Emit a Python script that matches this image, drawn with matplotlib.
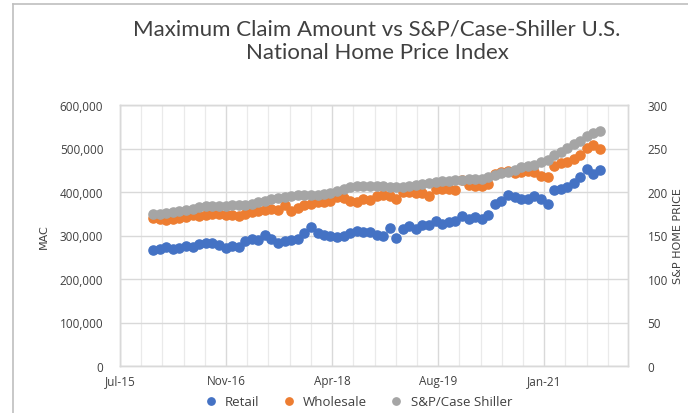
import matplotlib
matplotlib.use("Agg")
import matplotlib.pyplot as plt
import matplotlib.dates as mdates
from matplotlib.ticker import FuncFormatter, FixedLocator
import datetime as dt
import pandas as pd

# ---- data ----
dates = pd.date_range("2015-12-01", "2021-08-01", freq="MS")

retail = [267, 270, 273, 269, 272, 275, 273, 280, 282, 283, 279, 271, 276, 274,
          288, 292, 289, 301, 292, 283, 287, 290, 292, 306, 319, 306, 302, 300,
          297, 300, 306, 311, 309, 307, 302, 298, 318, 294, 316, 322, 316, 324,
          323, 334, 327, 330, 333, 345, 338, 342, 338, 347, 372, 380, 393, 388,
          385, 383, 390, 384, 373, 404, 408, 411, 421, 434, 453, 441, 451]
retail = [v * 1000 for v in retail]

wholesale = [340, 337, 336, 338, 340, 343, 347, 345, 347, 349, 349, 348, 347, 344,
             350, 355, 357, 358, 361, 358, 371, 357, 364, 369, 373, 376, 376, 379,
             388, 386, 380, 377, 383, 382, 390, 393, 390, 383, 399, 399, 398, 397,
             390, 406, 407, 406, 404, 427, 416, 414, 413, 418, 442, 447, 449, 443,
             447, 449, 445, 437, 434, 460, 466, 470, 476, 485, 502, 508, 499]
wholesale = [v * 1000 for v in wholesale]

case_shiller = [174.5, 175, 175.5, 176.5, 178, 179.5, 181, 182.5, 183.5, 184, 184.2,
                184.3, 184.5, 185, 185.5, 186.5, 188, 190, 191.5, 193, 194.5, 195.5,
                196, 196.5, 196.8, 197, 198, 199, 201, 203.5, 205.5, 206.5, 207, 207.2,
                207, 206.5, 205.5, 205.2, 205.5, 206.5, 208, 209.5, 210.5, 211.5, 212.5,
                213, 213.5, 214, 214.5, 215, 215.5, 217, 219.5, 221.5, 223.5, 225.5,
                228.5, 230, 231.5, 234, 237, 242, 246, 251, 255, 259, 264, 267.5, 270.5]

x_tick_labels = ["Jul-15", "Nov-16", "Apr-18", "Aug-19", "Jan-21"]
left_ticks = [0, 100000, 200000, 300000, 400000, 500000, 600000]
right_ticks = [0, 50, 100, 150, 200, 250, 300]

title = "Maximum Claim Amount vs S&P/Case-Shiller U.S.\nNational Home Price Index"

# ---- styling ----
C_RETAIL = "#4472C4"
C_WHOLE = "#ED7D31"
C_CS = "#A5A5A5"
FONT = "Open Sans"

fig = plt.figure(figsize=(6.88, 4.14), dpi=100)
fig.patch.set_facecolor("white")

# partial outer chart border (left & top visible)
fig.add_artist(plt.Line2D([13/688, 13/688], [0, 1 - 5/414], color="#BFBFBF", lw=1.2,
                          transform=fig.transFigure))
fig.add_artist(plt.Line2D([13/688, 1], [1 - 5/414, 1 - 5/414], color="#BFBFBF", lw=1.2,
                          transform=fig.transFigure))

ax = fig.add_axes([120/688, 1 - 367/414, (628 - 120)/688, (367 - 106)/414])
ax2 = ax.twinx()

start = mdates.date2num(dt.datetime(2015, 7, 1))
step = 491
ax.set_xlim(start, start + 2352)
ax.xaxis.set_major_locator(FixedLocator([start + k * step for k in range(len(x_tick_labels))]))
ax.xaxis.set_minor_locator(FixedLocator([start + k * step / 5 for k in range(0, 25)]))
ax.set_xticklabels(x_tick_labels)

ms = 6.6
ax.plot(dates, retail, "o", color=C_RETAIL, ms=ms, mec=C_RETAIL, label="Retail", zorder=3)
ax.plot(dates, wholesale, "o", color=C_WHOLE, ms=ms, mec=C_WHOLE, label="Wholesale", zorder=3)
ax2.plot(dates, case_shiller, "o", color=C_CS, ms=ms, mec=C_CS, label="S&P/Case Shiller", zorder=3)

ax.set_ylim(0, 600000)
ax.set_yticks(left_ticks)
ax.yaxis.set_major_formatter(FuncFormatter(lambda v, p: "{:,.0f}".format(v)))
ax2.set_ylim(0, 300)
ax2.set_yticks(right_ticks)

ax.grid(True, which="major", axis="both", color="#D9D9D9", lw=1.0)
ax.grid(True, which="minor", axis="x", color="#EAEAEA", lw=0.9)
ax.set_axisbelow(True)

for a in (ax, ax2):
    for s in a.spines.values():
        s.set_color("#D9D9D9")
        s.set_linewidth(1.0)
    a.tick_params(which="both", length=0, labelsize=8.5, labelcolor="#404040")
    for lab in a.get_xticklabels() + a.get_yticklabels():
        lab.set_fontfamily(FONT)
ax.tick_params(axis="y", pad=12)
ax.tick_params(axis="x", pad=6)
ax2.tick_params(axis="y", pad=14)

ax.set_ylabel("MAC", fontfamily="DejaVu Sans Condensed", fontsize=8, color="#404040",
              labelpad=8)
ax2.set_ylabel("S&P HOME PRICE", fontfamily="DejaVu Sans Condensed", fontsize=8,
               color="#404040", labelpad=4)

fig.text(0.548, 1 - 41/414, title, ha="center", va="center", fontsize=16,
         fontfamily="Lato", color="#404040", linespacing=1.2)

h1, l1 = ax.get_legend_handles_labels()
h2, l2 = ax2.get_legend_handles_labels()
leg = fig.legend(h1 + h2, l1 + l2, loc="center", bbox_to_anchor=(355/688, 1 - 403/414),
                 ncol=3, frameon=False, handletextpad=0.1, columnspacing=1.2,
                 markerscale=0.8, prop={"family": FONT, "size": 9.5})
for t in leg.get_texts():
    t.set_color("#404040")

fig.savefig("out.png", dpi=100)
